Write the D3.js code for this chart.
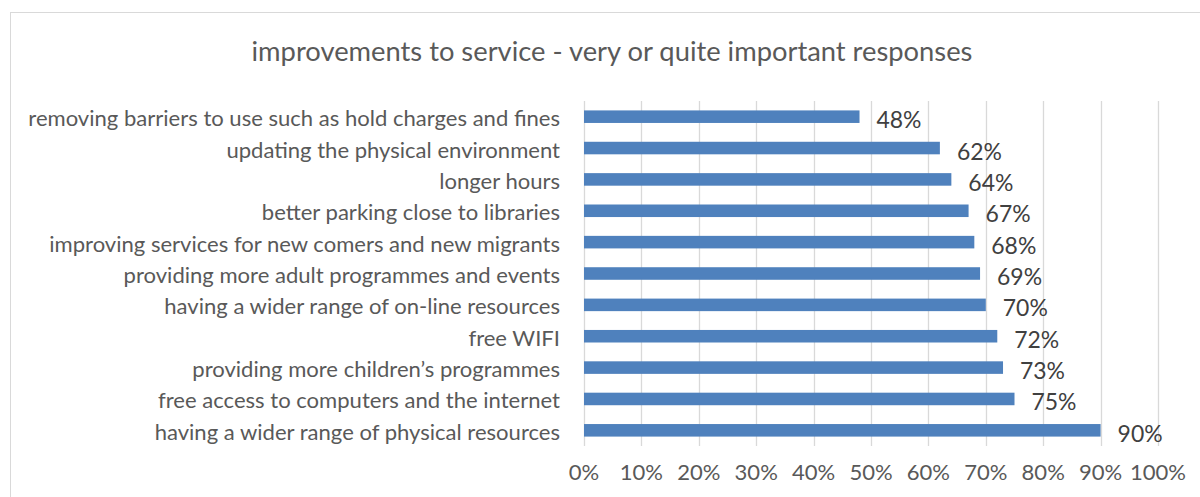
<!DOCTYPE html>
<html><head><meta charset="utf-8">
<script src="https://cdn.jsdelivr.net/npm/d3@7"></script>
<style>html,body{margin:0;padding:0;background:#fff;overflow:hidden}</style>
</head><body>
<svg id="chart" width="1200" height="497"></svg>
<script>
const titleText = "improvements to service - very or quite important responses";
const categories = [
  "removing barriers to use such as hold charges and fines",
  "updating the physical environment",
  "longer hours",
  "better parking close to libraries",
  "improving services for new comers and new migrants",
  "providing more adult programmes and events",
  "having a wider range of on-line resources",
  "free WIFI",
  "providing more children\u2019s programmes",
  "free access to computers and the internet",
  "having a wider range of physical resources"
];
const values = [0.48, 0.62, 0.64, 0.67, 0.68, 0.69, 0.70, 0.72, 0.73, 0.75, 0.90];
const tickValues = [0,0.1,0.2,0.3,0.4,0.5,0.6,0.7,0.8,0.9,1.0];

const FONT = "Lato, 'Open Sans', sans-serif";
const svg = d3.select("#chart");
svg.append("rect").attr("x",10.5).attr("y",12.5).attr("width",1300).attr("height",700)
  .attr("fill","#fff").attr("stroke","#d9d9d9").attr("stroke-width",1);

const x = d3.scaleLinear().domain([0,1]).range([584,1158]);
const y = d3.scaleBand().domain(categories).range([101,446]).paddingInner(0.6).paddingOuter(0.3);

// gridlines
svg.append("g").selectAll("line").data(tickValues).join("line")
  .attr("x1",d=>Math.round(x(d))+0.5).attr("x2",d=>Math.round(x(d))+0.5)
  .attr("y1",101).attr("y2",446).attr("stroke","#d9d9d9").attr("stroke-width",1.3);

// title
const title = svg.append("text").attr("x",612).attr("y",61).attr("text-anchor","middle")
  .attr("font-family",FONT).attr("font-size",24).attr("fill","#595959").text(titleText);
const tw = title.node().getComputedTextLength();
title.attr("font-size", 24*721/tw);

// category labels
const lab = svg.append("g").selectAll("text").data(categories).join("text")
  .attr("x",560).attr("y",d=>y(d)+y.bandwidth()/2+1).attr("text-anchor","end")
  .attr("dominant-baseline","central").attr("font-family",FONT).attr("font-size",18)
  .attr("fill","#595959").text(d=>d);
const lw = lab.nodes()[0].getComputedTextLength();
const fs = 18*532/lw;
lab.attr("font-size",fs);

// bars
svg.append("g").selectAll("rect").data(values).join("rect")
  .attr("x",x(0)).attr("y",(d,i)=>y(categories[i]))
  .attr("width",d=>x(d)-x(0)).attr("height",y.bandwidth()).attr("fill","#4f81bd");

// value labels
svg.append("g").selectAll("text").data(values).join("text")
  .attr("x",d=>x(d)+17).attr("y",(d,i)=>y(categories[i])+y.bandwidth()/2+2.5)
  .attr("dominant-baseline","central").attr("font-family",FONT).attr("font-size",fs*1.04)
  .attr("fill","#404040").text(d=>d3.format(".0%")(d));

// x axis tick labels
svg.append("g").selectAll("text").data(tickValues).join("text")
  .attr("x",d=>x(d)).attr("y",471).attr("text-anchor","middle").attr("dominant-baseline","central")
  .attr("font-family",FONT).attr("font-size",fs).attr("fill","#595959")
  .text(d=>d3.format(".0%")(d));
</script>
</body></html>
